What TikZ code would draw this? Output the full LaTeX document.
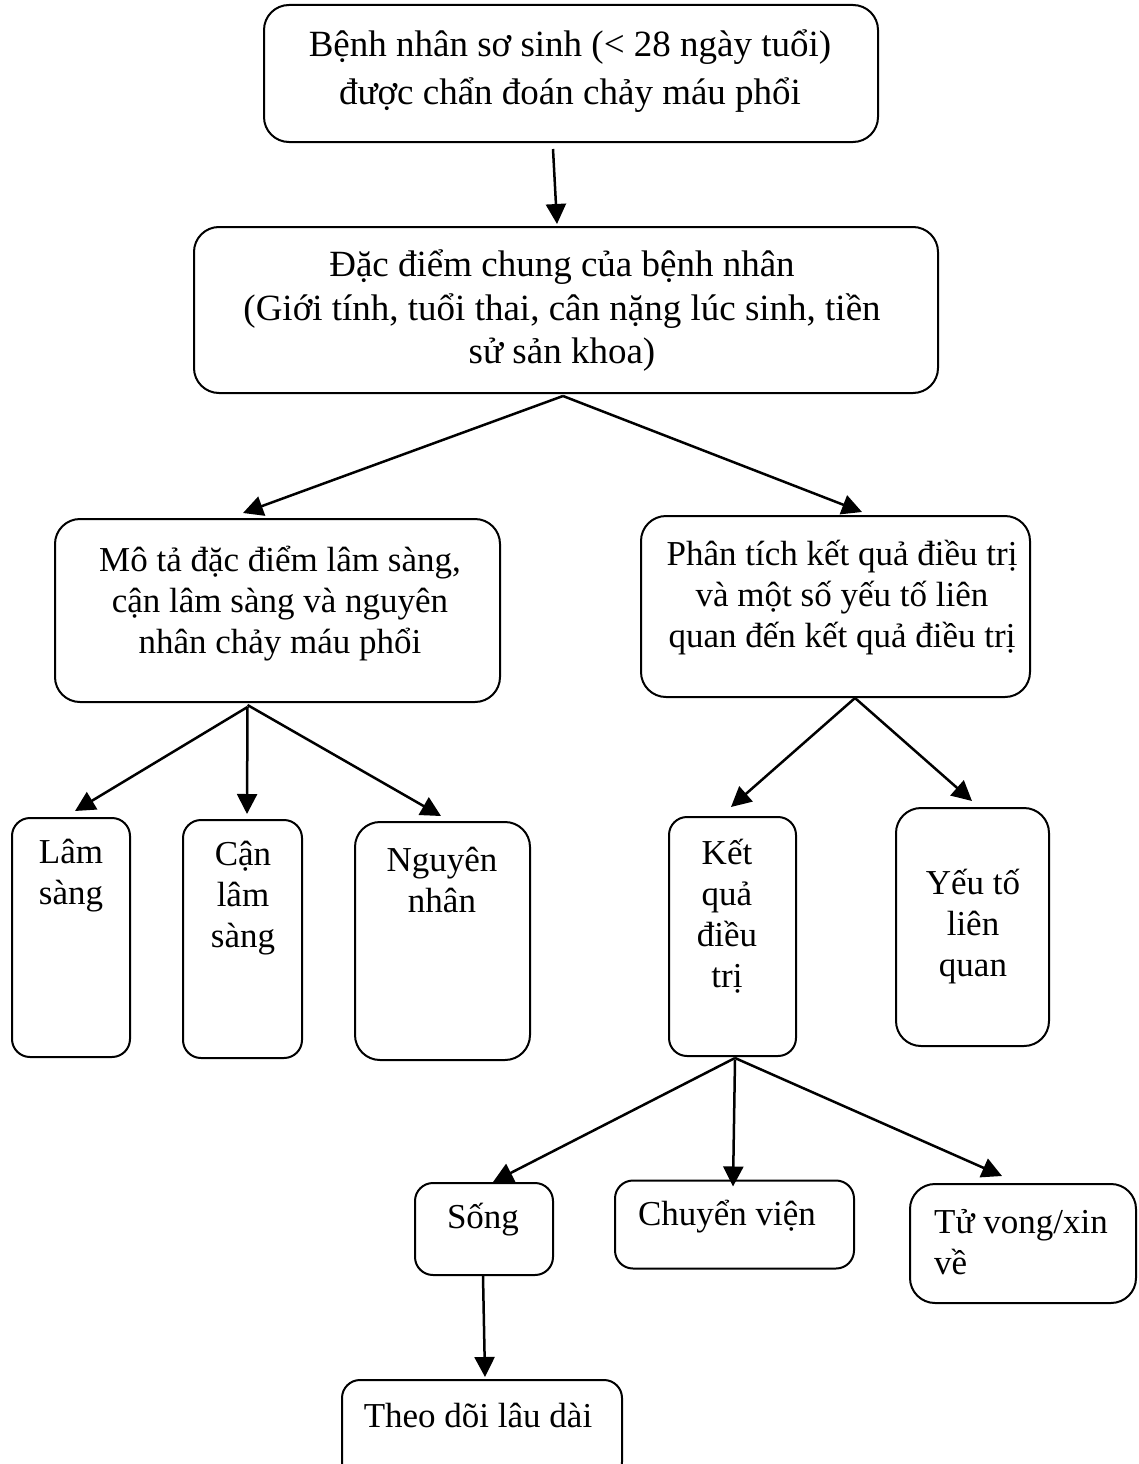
\documentclass[tikz,border=0pt]{standalone}
\usepackage{fontspec}
\setmainfont{Liberation Serif}
\usetikzlibrary{arrows.meta}
\begin{document}
\begin{tikzpicture}[x=1pt,y=-1pt,
  box/.style={draw,line width=2pt,rounded corners=25pt,inner sep=0pt},
  sbox/.style={box,rounded corners=18pt},
  txt/.style={align=center,inner sep=0pt,font=\fontsize{35}{41}\selectfont},
  arr/.style={line width=2.5pt,-{Triangle[length=20pt,width=20pt]}}]
\fill[white] (0,0) rectangle (1139,1464);
\useasboundingbox (0,0) rectangle (1139,1464);
% boxes
\node[box,minimum width=614pt,minimum height=137pt] (A) at (571,73.5) {};
\node[box,minimum width=744pt,minimum height=166pt] (B) at (566,310) {};
\node[box,minimum width=445pt,minimum height=183pt] (C) at (277.5,610.5) {};
\node[box,minimum width=389pt,minimum height=181pt] (D) at (835.5,606.5) {};
\node[sbox,minimum width=118pt,minimum height=239pt] (E) at (71,937.5) {};
\node[sbox,minimum width=119pt,minimum height=238pt] (F) at (242.5,939) {};
\node[box,minimum width=175pt,minimum height=238pt] (G) at (442.5,941) {};
\node[sbox,minimum width=127pt,minimum height=239pt] (H) at (732.5,936.5) {};
\node[box,minimum width=153pt,minimum height=238pt] (I) at (972.5,927) {};
\node[sbox,minimum width=138pt,minimum height=92pt] (J) at (484,1229) {};
\node[sbox,minimum width=239pt,minimum height=88pt] (K) at (734.5,1224.5) {};
\node[box,minimum width=226pt,minimum height=119pt] (L) at (1023,1243.5) {};
\node[sbox,minimum width=280pt,minimum height=100pt] (M) at (482,1430) {};
% texts
\node[txt,font=\fontsize{37}{48}\selectfont] (tA) at (570,71) {Bệnh nhân sơ sinh (< 28 ngày tuổi)\\được chẩn đoán chảy máu phổi};
\node[txt,font=\fontsize{37}{43.5}\selectfont] (tB) at (562,311) {Đặc điểm chung của bệnh nhân\\(Giới tính, tuổi thai, cân nặng lúc sinh, tiền\\sử sản khoa)};
\node[txt] (tC) at (280,604) {Mô tả đặc điểm lâm sàng,\\cận lâm sàng và nguyên\\nhân chảy máu phổi};
\node[txt] (tD) at (842,598) {Phân tích kết quả điều trị\\và một số yếu tố liên\\quan đến kết quả điều trị};
\node[txt] (tE) at (71,876) {Lâm\\sàng};
\node[txt] (tF) at (243,898) {Cận\\lâm\\sàng};
\node[txt] (tG) at (442,880) {Nguyên\\nhân};
\node[txt] (tH) at (727,916) {Kết\\quả\\điều\\trị};
\node[txt] (tI) at (973,927) {Yếu tố\\liên\\quan};
\node[txt] (tJ) at (483,1220) {Sống};
\node[txt] (tK) at (727,1217) {Chuyển viện};
\node[txt,align=left,anchor=west] (tL) at (934,1242) {Tử vong/xin\\về};
\node[txt] (tM) at (478,1415) {Theo dõi lâu dài};
% connectors
\draw[arr] ([xshift=-18pt,yshift=-6pt]A.south) -- ([xshift=-9pt,yshift=2pt]B.north);
\draw[arr] ([xshift=-3pt,yshift=-2pt]B.south) -- ([xshift=-34.5pt,yshift=5pt]C.north);
\draw[arr] ([xshift=-3pt,yshift=-2pt]B.south) -- ([xshift=26.5pt,yshift=3pt]D.north);
\draw[arr] ([xshift=-30pt,yshift=-4pt]C.south) -- ([xshift=4pt,yshift=6pt]E.north);
\draw[arr] ([xshift=-30pt,yshift=-4pt]C.south) -- ([xshift=4.5pt,yshift=5pt]F.north);
\draw[arr] ([xshift=-30pt,yshift=-2pt]C.south) -- ([xshift=-1.5pt,yshift=5pt]G.north);
\draw[arr] ([xshift=19.5pt]D.south) -- ([xshift=-1.5pt,yshift=9pt]H.north);
\draw[arr] ([xshift=19.5pt]D.south) -- ([xshift=-0.5pt,yshift=6pt]I.north);
\draw[arr] ([xshift=2.5pt,yshift=-1pt]H.south) -- ([xshift=9pt]J.north);
\draw[arr] ([xshift=2.5pt,yshift=-3pt]H.south) -- ([xshift=-1.5pt,yshift=-7pt]K.north);
\draw[arr] ([xshift=2.5pt,yshift=-1pt]H.south) -- ([xshift=-21pt,yshift=7pt]L.north);
\draw[arr] ([xshift=-1pt]J.south) -- ([xshift=3pt,yshift=2pt]M.north);
\end{tikzpicture}
\end{document}
